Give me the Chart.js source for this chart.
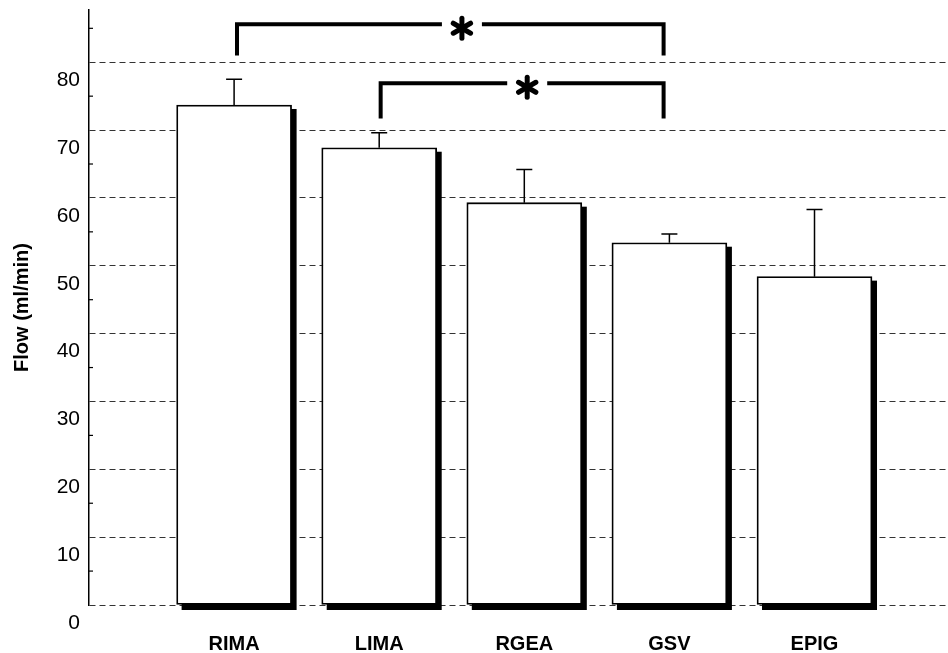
<!DOCTYPE html>
<html>
<head>
<meta charset="utf-8">
<script src="https://cdn.jsdelivr.net/npm/chart.js@4"></script>
<style>
  body { margin: 0; background: #fff; }
  #wrap { width: 948px; height: 653px; }
</style>
</head>
<body>
<div id="wrap"><canvas id="flow-chart" width="948" height="653"></canvas></div>
<script>
// ----------------- Data -----------------
const categories = ['RIMA', 'LIMA', 'RGEA', 'GSV', 'EPIG'];
const flowMean = [73.7, 67.4, 59.3, 53.4, 48.4];
const flowError = [3.8, 2.2, 4.9, 1.3, 9.9];
const yTickValues = [0, 10, 20, 30, 40, 50, 60, 70, 80];
const yMinorTicks = [5, 15, 25, 35, 45, 55, 65, 75, 85];

// significance brackets: from / to / asterisk position (category units), bracket top / leg end (ml/min)
const brackets = [
    { from: 1.02, to: 3.96, star: 2.57, top: 85.6, leg: 81.0 },
    { from: 2.01, to: 3.96, star: 3.02, top: 76.9, leg: 71.7 }
];

// ----------------- Plugins -----------------
const barShadow = {
    id: 'barShadow',
    beforeDatasetsDraw(chart) {
        const ctx = chart.ctx;
        const y = chart.scales.y;
        ctx.save();
        ctx.fillStyle = '#000';
        chart.getDatasetMeta(0).data.forEach(bar => {
            const w = bar.width;
            ctx.fillRect(bar.x - w / 2 + 5, bar.y + 4, w, y.getPixelForValue(0) - bar.y + 1);
        });
        ctx.restore();
    }
};

const errorBars = {
    id: 'errorBars',
    afterDatasetsDraw(chart) {
        const ctx = chart.ctx;
        const y = chart.scales.y;
        ctx.save();
        ctx.strokeStyle = '#000';
        ctx.lineWidth = 1.5;
        chart.getDatasetMeta(0).data.forEach((bar, i) => {
            const top = y.getPixelForValue(flowMean[i] + flowError[i]);
            ctx.beginPath();
            ctx.moveTo(bar.x, bar.y);
            ctx.lineTo(bar.x, top);
            ctx.moveTo(bar.x - 8, top);
            ctx.lineTo(bar.x + 8, top);
            ctx.stroke();
        });
        ctx.restore();
    }
};

function drawAsterisk(ctx, cx, cy, r) {
    ctx.save();
    ctx.lineWidth = 5;
    ctx.lineCap = 'round';
    for (let k = 0; k < 3; k++) {
        const a = Math.PI / 2 + k * Math.PI / 3;
        ctx.beginPath();
        ctx.moveTo(cx - r * Math.cos(a), cy - r * Math.sin(a));
        ctx.lineTo(cx + r * Math.cos(a), cy + r * Math.sin(a));
        ctx.stroke();
    }
    ctx.restore();
}

const annotations = {
    id: 'annotations',
    afterDraw(chart) {
        const ctx = chart.ctx;
        const x = chart.scales.x;
        const y = chart.scales.y;
        ctx.save();
        ctx.strokeStyle = '#000';
        ctx.lineWidth = 1.2;
        // minor ticks on the y axis
        yMinorTicks.forEach(v => {
            const py = y.getPixelForValue(v);
            ctx.beginPath();
            ctx.moveTo(x.left, py);
            ctx.lineTo(x.left + 4, py);
            ctx.stroke();
        });
        // brackets with asterisks
        ctx.lineWidth = 4;
        brackets.forEach(b => {
            const x1 = x.getPixelForValue(b.from);
            const x2 = x.getPixelForValue(b.to);
            const yt = y.getPixelForValue(b.top);
            const yl = y.getPixelForValue(b.leg);
            const mid = x.getPixelForValue(b.star);
            ctx.beginPath();
            ctx.moveTo(x1, yl);
            ctx.lineTo(x1, yt);
            ctx.lineTo(mid - 20, yt);
            ctx.moveTo(mid + 20, yt);
            ctx.lineTo(x2, yt);
            ctx.lineTo(x2, yl);
            ctx.stroke();
            drawAsterisk(ctx, mid, yt + 4, 10);
        });
        ctx.restore();
    }
};

// ----------------- Chart -----------------
const ctx = document.getElementById('flow-chart');
new Chart(ctx.getContext('2d'), {
    type: 'bar',
    data: {
        datasets: [{
            data: flowMean.map((v, i) => ({ x: i + 1, y: v })),
            backgroundColor: '#fff',
            borderColor: '#000',
            borderWidth: 1.8,
            borderSkipped: false,
            barThickness: 115
        }]
    },
    options: {
        responsive: false,
        animation: false,
        layout: { padding: { top: 10, right: 0, left: 0, bottom: 0 } },
        plugins: {
            legend: { display: false },
            tooltip: { enabled: false }
        },
        scales: {
            x: {
                type: 'linear',
                offset: false,
                min: 0,
                max: 5.92,
                afterBuildTicks: axis => { axis.ticks = categories.map((c, i) => ({ value: i + 1 })); },
                afterFit: axis => {
                    axis.height = 48;
                    axis.paddingLeft = 0;
                    axis.paddingRight = 0;
                },
                grid: { display: false, drawTicks: false, offset: false },
                border: { display: false },
                ticks: {
                    padding: 27,
                    color: '#000',
                    font: { family: 'Liberation Sans, Arial, sans-serif', size: 20, weight: 'bold' },
                    callback: v => categories[v - 1]
                }
            },
            y: {
                min: 0,
                max: 87.7,
                afterBuildTicks: axis => { axis.ticks = yTickValues.map(v => ({ value: v })); },
                afterFit: axis => {
                    axis.width = 89;
                    axis.paddingTop = 0;
                    axis.paddingBottom = 0;
                },
                grid: { color: '#333', lineWidth: 1, drawTicks: false },
                border: { display: true, color: '#000', width: 1.5, dash: [6, 4] },
                ticks: {
                    padding: 9,
                    labelOffset: 18,
                    color: '#000',
                    font: { family: 'Liberation Sans, Arial, sans-serif', size: 21 }
                },
                title: {
                    display: true,
                    text: 'Flow (ml/min)',
                    color: '#000',
                    padding: { top: 10, bottom: 0 },
                    font: { family: 'Liberation Sans, Arial, sans-serif', size: 20, weight: 'bold' }
                }
            }
        }
    },
    plugins: [barShadow, errorBars, annotations]
});
</script>
</body>
</html>
